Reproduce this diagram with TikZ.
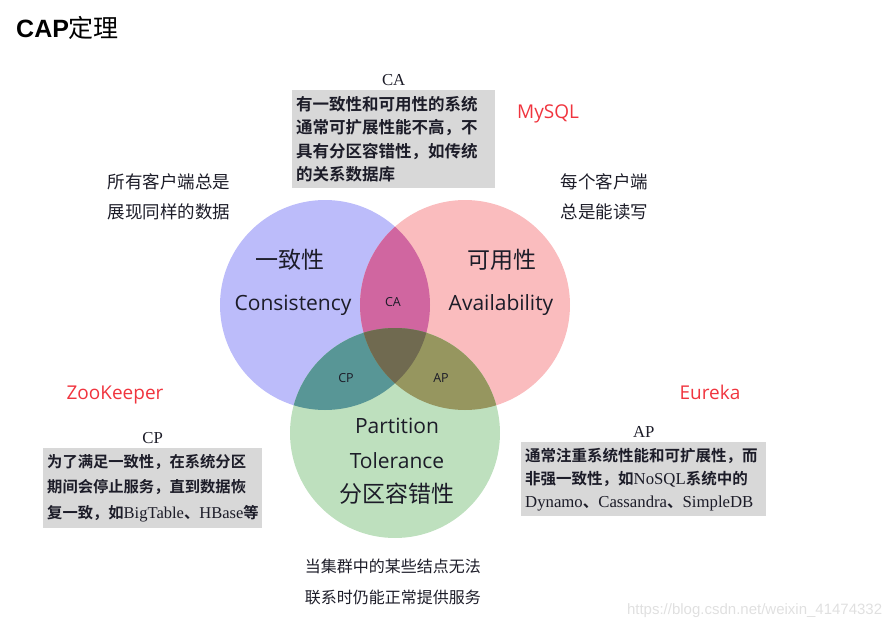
\documentclass[tikz,border=0pt]{standalone}
\usetikzlibrary{positioning}
\usepackage{fontspec}
\setmainfont{Liberation Serif}[Scale=1.08]
\setsansfont{Open Sans}
\newfontfamily\titlefont{Liberation Sans}
\newfontfamily\cjk{Noto Sans CJK SC}
\newfontfamily\cjkbold{Noto Sans CJK SC Bold}
\newcommand\romtxt[1]{{\rmfamily #1}}
\definecolor{cblue}{RGB}{188,188,250}
\definecolor{cred}{RGB}{250,188,190}
\definecolor{cgreen}{RGB}{190,224,190}
\definecolor{mixca}{RGB}{208,102,160}
\definecolor{mixcp}{RGB}{88,150,150}
\definecolor{mixap}{RGB}{150,150,95}
\definecolor{mixall}{RGB}{112,106,80}
\definecolor{boxgray}{RGB}{216,216,216}
\definecolor{prodred}{RGB}{240,52,62}
\definecolor{inktext}{RGB}{28,28,40}

\begin{document}
\begin{tikzpicture}[x=1pt,y=-1pt,
  infobox/.style={fill=boxgray,anchor=north west,inner sep=4pt,align=left,text=inktext},
  boxhead/.style={inner sep=1pt,font=\rmfamily\fontsize{15.5}{18}\selectfont,text=inktext},
  prodname/.style={font=\sffamily\fontsize{19}{22}\selectfont,text=prodred},
  remark/.style={align=left,font=\cjk\fontsize{17.5}{30}\selectfont,text=inktext},
  setname/.style={font=\cjk\fontsize{23}{26}\selectfont,text=inktext},
  seten/.style={font=\sffamily\fontsize{21}{24}\selectfont,text=inktext},
  pairtag/.style={font=\sffamily\fontsize{12.5}{14}\selectfont,text=inktext}]
\useasboundingbox (0,0) rectangle (887,632);
\def\rad{105}
% title
\node[anchor=west,inner sep=0pt] (title) at (16,28)
  {{\titlefont\bfseries\fontsize{25}{28}\selectfont CAP}{\cjk\fontsize{25}{28}\selectfont 定理}};
% the three sets
\fill[cblue] (325,305) circle (\rad);
\fill[cred] (465,305) circle (\rad);
\fill[cgreen] (395,433) circle (\rad);
% pairwise overlaps
\begin{scope}
  \clip (325,305) circle (\rad);
  \fill[mixca] (465,305) circle (\rad);
  \fill[mixcp] (395,433) circle (\rad);
\end{scope}
\begin{scope}
  \clip (465,305) circle (\rad);
  \fill[mixap] (395,433) circle (\rad);
\end{scope}
% middle of all three
\begin{scope}
  \clip (325,305) circle (\rad);
  \clip (465,305) circle (\rad);
  \fill[mixall] (395,433) circle (\rad);
\end{scope}
% set names
\node[setname] (cname) at (290,260) {一致性};
\node[seten] (cen) at (293,305) {Consistency};
\node[setname] (aname) at (502,260) {可用性};
\node[seten] (aen) at (501,305) {Availability};
\node[seten] (pen1) at (397,426) {Partition};
\node[seten] (pen2) at (397,461) {Tolerance};
\node[setname] (pname) at (397,494) {分区容错性};
\node[pairtag] (catag) at (393,302) {CA};
\node[pairtag] (cptag) at (346,378) {CP};
\node[pairtag] (aptag) at (441,378) {AP};
% remarks round the sets
\node[remark,anchor=west] (cnote) at (104,197) {所有客户端总是\\展现同样的数据};
\node[remark,anchor=west] (anote) at (557,197) {每个客户端\\总是能读写};
\node[remark,anchor=west,font=\cjk\fontsize{16}{31}\selectfont] (pnote) at (301,582)
  {当集群中的某些结点无法\\联系时仍能正常提供服务};
% boxes
\node[infobox,text width=195pt,minimum height=98pt,font=\cjkbold\fontsize{16.5}{23.5}\selectfont] (cabox) at (292,90)
  {有一致性和可用性的系统\\通常可扩展性能不高，不\\具有分区容错性，如传统\\的关系数据库};
\node[boxhead,above=3pt of cabox] (cahead) {CA};
\node[infobox,text width=211pt,minimum height=80pt,font=\cjkbold\fontsize{15.3}{25.5}\selectfont] (cpbox) at (43,448)
  {为了满足一致性，在系统分区\\期间会停止服务，直到数据恢\\复一致，如\romtxt{BigTable}、\romtxt{HBase}等};
\node[boxhead,above=3pt of cpbox] (cphead) {CP};
\node[infobox,text width=237pt,minimum height=74pt,font=\cjkbold\fontsize{15.5}{23}\selectfont] (apbox) at (521,442)
  {通常注重系统性能和可扩展性，而\\非强一致性，如\romtxt{NoSQL}系统中的\\\romtxt{Dynamo}、\romtxt{Cassandra}、\romtxt{SimpleDB}};
\node[boxhead,above=3pt of apbox] (aphead) {AP};
% products
\node[prodname] (mysql) at (548,114) {MySQL};
\node[prodname] (zk) at (115,395) {ZooKeeper};
\node[prodname] (eureka) at (710,392) {Eureka};
% watermark
\node[font=\titlefont\fontsize{15}{17}\selectfont,text=black!12,anchor=east] (mark) at (886,611)
  {https://blog.csdn.net/weixin\_41474332};
\end{tikzpicture}
\end{document}
